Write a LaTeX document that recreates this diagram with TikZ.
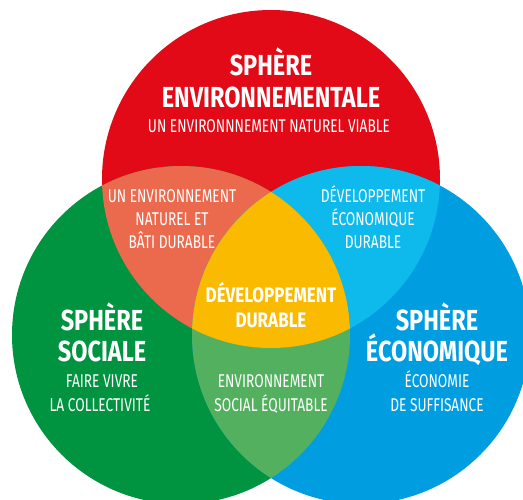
\documentclass[tikz,border=0pt]{standalone}
\usepackage{fontspec}
\setmainfont{Fira Sans}[FakeStretch=0.74, BoldFeatures={FakeStretch=0.81}]
\definecolor{envred}{RGB}{226,10,22}
\definecolor{socgreen}{RGB}{0,148,64}
\definecolor{ecoblue}{RGB}{0,158,224}
\definecolor{salmon}{RGB}{235,106,77}
\definecolor{skyblue}{RGB}{14,185,236}
\definecolor{lightgreen}{RGB}{82,176,94}
\definecolor{sunyellow}{RGB}{250,186,0}
\tikzset{
  bigtitle/.style={anchor=base, text=white, inner sep=0pt, font=\fontsize{29}{32}\selectfont\bfseries},
  midtitle/.style={anchor=base, text=white, inner sep=0pt, font=\fontsize{21}{28}\selectfont\bfseries},
  caption/.style={anchor=base, text=white, inner sep=0pt, font=\fontsize{18.5}{23}\selectfont},
}
\begin{document}
\begin{tikzpicture}[x=1pt,y=-1pt]
\useasboundingbox (0,0) rectangle (523,499);
\begin{scope}
\clip (0,0) rectangle (523,499);
% the three spheres
\fill[envred] (271,179) circle (169);
\fill[socgreen] (181,335) circle (169);
\fill[ecoblue] (361,335) circle (169);
% pairwise overlaps
\begin{scope}
  \clip (271,179) circle (169);
  \fill[salmon] (181,335) circle (169);
  \fill[skyblue] (361,335) circle (169);
\end{scope}
\begin{scope}
  \clip (181,335) circle (169);
  \fill[lightgreen] (361,335) circle (169);
\end{scope}
% common core
\begin{scope}
  \clip (271,179) circle (169);
  \clip (181,335) circle (169);
  \fill[sunyellow] (361,335) circle (169);
\end{scope}
\end{scope}
% environmental sphere
\node[bigtitle] (envA) at (271,75) {SPHÈRE};
\node[bigtitle] (envB) at (271,107) {ENVIRONNEMENTALE};
\node[caption] (envC) at (269,132) {UN ENVIRONNNEMENT NATUREL VIABLE};
% social sphere
\node[bigtitle] (socA) at (102,330) {SPHÈRE};
\node[bigtitle] (socB) at (102,361) {SOCIALE};
\node[caption] (socC) at (102,387) {FAIRE VIVRE};
\node[caption] (socD) at (100,411) {LA COLLECTIVITÉ};
% economic sphere
\node[bigtitle] (ecoA) at (437,330) {SPHÈRE};
\node[bigtitle] (ecoB) at (437,361) {ÉCONOMIQUE};
\node[caption] (ecoC) at (437,387) {ÉCONOMIE};
\node[caption] (ecoD) at (437,411) {DE SUFFISANCE};
% environment and society
\node[caption] (esA) at (172,202) {UN ENVIRONNEMENT};
\node[caption] (esB) at (172,225) {NATUREL ET};
\node[caption] (esC) at (172,248) {BÂTI DURABLE};
% environment and economy
\node[caption] (eeA) at (373,202) {DÉVELOPPEMENT};
\node[caption] (eeB) at (373,225) {ÉCONOMIQUE};
\node[caption] (eeC) at (373,248) {DURABLE};
% society and economy
\node[caption] (seA) at (271,387) {ENVIRONNEMENT};
\node[caption] (seB) at (271,411) {SOCIAL ÉQUITABLE};
% centre
\node[midtitle] (coreA) at (271,302) {DÉVELOPPEMENT};
\node[midtitle] (coreB) at (271,327) {DURABLE};
\end{tikzpicture}
\end{document}
